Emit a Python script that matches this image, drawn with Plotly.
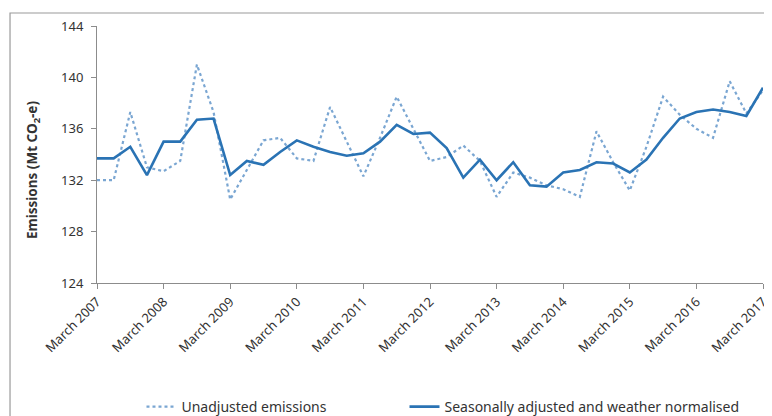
import plotly.graph_objects as go

# quarterly emissions, March 2007 .. March 2017 (Mt CO2-e)
quarters = list(range(41))

unadjusted = [
    132.0, 132.0, 137.3, 133.0, 132.7, 133.5, 141.0, 137.3, 130.5, 132.8,
    135.1, 135.3, 133.7, 133.5, 137.7, 135.0, 132.3, 135.3, 138.5, 136.0,
    133.5, 133.8, 134.7, 133.5, 130.7, 132.6, 132.2, 131.6, 131.3, 130.7,
    135.8, 133.4, 131.2, 134.6, 138.5, 137.1, 136.0, 135.3, 139.7, 137.2,
    139.0,
]

adjusted = [
    133.7, 133.7, 134.6, 132.4, 135.0, 135.0, 136.7, 136.8, 132.4, 133.5,
    133.2, 134.2, 135.1, 134.6, 134.2, 133.9, 134.1, 135.0, 136.3, 135.6,
    135.7, 134.5, 132.2, 133.6, 132.0, 133.4, 131.6, 131.5, 132.6, 132.8,
    133.4, 133.3, 132.6, 133.6, 135.3, 136.8, 137.3, 137.5, 137.3, 137.0,
    139.2,
]

tick_pos = list(range(0, 41, 4))
tick_labels = [f"March {y}" for y in range(2007, 2018)]

fig = go.Figure()
fig.add_trace(go.Scatter(
    x=quarters, y=unadjusted, mode="lines", name="Unadjusted emissions",
    line=dict(color="#7aa6d2", width=2.2, dash="dot"),
    legend="legend",
))
fig.add_trace(go.Scatter(
    x=quarters, y=adjusted, mode="lines",
    name="Seasonally adjusted and weather normalised",
    line=dict(color="#2a73b4", width=2.6),
    legend="legend2",
))

# outer chart border (like the Excel chart frame)
fig.add_shape(type="rect", xref="paper", yref="paper",
              x0=-0.1306, x1=1.006, y0=-0.56, y1=1.0506,
              line=dict(color="#9a9a9a", width=1.2), layer="below")

# y axis title, placed by hand
fig.add_annotation(
    text="<b>Emissions (Mt CO<sub>2</sub>-e)</b>", textangle=-90,
    xref="paper", yref="paper", x=-0.096, y=0.44, showarrow=False,
    xanchor="center", yanchor="middle",
    font=dict(family="Noto Sans", size=13.5, color="#333333"),
)

axis_font = dict(family="Noto Sans", size=13, color="#333333")

fig.update_xaxes(
    range=[0, 40], tickvals=tick_pos, ticktext=tick_labels, tickangle=-45,
    showgrid=False, zeroline=False, showline=True, linecolor="#8c8c8c",
    ticks="outside", ticklen=5, tickcolor="#8c8c8c", tickfont=axis_font,
    automargin=False,
)
fig.update_yaxes(
    range=[124, 144], dtick=4, showgrid=False, zeroline=False,
    showline=True, linecolor="#8c8c8c", ticks="outside", ticklen=5,
    tickcolor="#8c8c8c", tickfont=axis_font, ticklabelstandoff=5,
    automargin=False,
)

legend_font = dict(family="Noto Sans", size=14, color="#333333")

# page body has an 8px margin, so the figure is 8px smaller each way
fig.update_layout(
    width=764, height=408,
    margin=dict(l=89, r=9, t=18, b=133),
    plot_bgcolor="white", paper_bgcolor="white",
    font=dict(family="Noto Sans", size=13, color="#333333"),
    showlegend=True,
    legend=dict(orientation="h", x=0.0668, y=0.022, xanchor="left",
                yanchor="middle", yref="container", font=legend_font),
    legend2=dict(orientation="h", x=0.4617, y=0.022, xanchor="left",
                 yanchor="middle", yref="container", font=legend_font),
)

fig.write_html("out.html")
